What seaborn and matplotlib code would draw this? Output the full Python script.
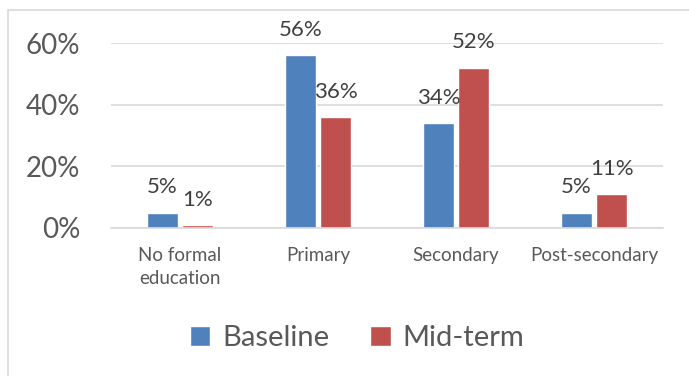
import matplotlib
matplotlib.use("Agg")
import matplotlib.pyplot as plt
from matplotlib.patches import Rectangle
import seaborn as sns
import pandas as pd

categories = ["No formal\neducation", "Primary", "Secondary", "Post-secondary"]
series_names = ["Baseline", "Mid-term"]
baseline = [0.05, 0.56, 0.34, 0.05]
midterm = [0.01, 0.36, 0.52, 0.11]
yticks = [0.0, 0.2, 0.4, 0.6]
ytick_labels = ["0%", "20%", "40%", "60%"]
colors = ["#4F81BD", "#C0504D"]

df = pd.DataFrame({
    "category": categories * 2,
    "series": [series_names[0]] * 4 + [series_names[1]] * 4,
    "value": baseline + midterm,
})

sns.set_theme(style="white")
plt.rcParams["font.family"] = ["Lato", "DejaVu Sans"]
text_color = "#595959"
grid_color = "#D9D9D9"

W, H = 689, 376
fig = plt.figure(figsize=(W / 100, H / 100), dpi=100)
fig.patch.set_facecolor("white")
ax = fig.add_axes([111 / W, 148 / H, (663 - 111) / W, (333 - 148) / H])

sns.barplot(data=df, x="category", y="value", hue="series", order=categories,
            hue_order=series_names, palette=colors, width=0.51, gap=0.13,
            saturation=1, ax=ax, legend=True)

ax.set_ylim(0, 0.6)
ax.set_yticks(yticks)
ax.set_yticklabels(ytick_labels, fontsize=20, color=text_color)
ax.tick_params(axis="y", length=0, pad=22)
ax.tick_params(axis="x", length=0, pad=14, labelsize=13.5, labelcolor=text_color)
for lbl in ax.get_xticklabels():
    lbl.set_linespacing(1.4)
ax.set_xlabel("")
ax.set_ylabel("")
ax.grid(axis="y", color=grid_color, linewidth=1.2)
ax.set_axisbelow(True)
for side in ["top", "right", "left"]:
    ax.spines[side].set_visible(False)
ax.spines["bottom"].set_color(grid_color)
ax.spines["bottom"].set_linewidth(1.2)

for container in ax.containers:
    labels = [f"{v * 100:.0f}%" for v in container.datavalues]
    ax.bar_label(container, labels=labels, padding=11, fontsize=16,
                 color="#404040")

handles, labs = ax.get_legend_handles_labels()
ax.legend(handles, labs, loc="center", bbox_to_anchor=(357 / W, (H - 338) / H),
          bbox_transform=fig.transFigure, ncol=2, frameon=False,
          fontsize=21, handlelength=0.7, handleheight=0.7,
          handletextpad=0.4, columnspacing=1.4, labelcolor=text_color)

# chart frame
fig.patches.append(Rectangle((8 / W, -0.05), 1.2, (H - 10) / H + 0.05,
                             transform=fig.transFigure, fill=False,
                             edgecolor=grid_color, linewidth=1.2))

fig.savefig("out.png", dpi=100)
